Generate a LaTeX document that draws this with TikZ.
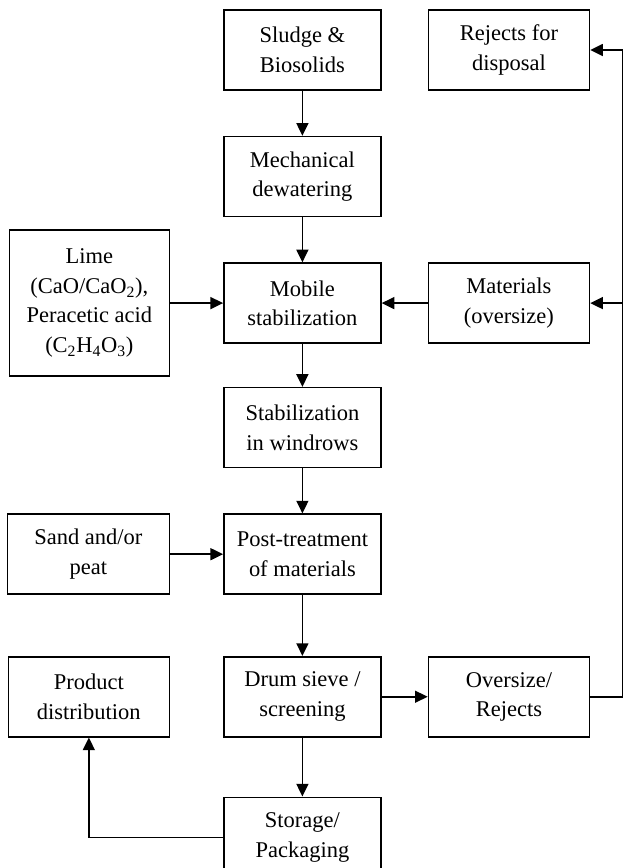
\documentclass[tikz,border=0pt]{standalone}
\usepackage{fontspec}
\setmainfont{Liberation Serif}
\usetikzlibrary{arrows.meta, positioning}

\begin{document}
\begin{tikzpicture}[
    % khoang cach giua cac khoi
    node distance=1.125cm and 1.15cm,
    every node/.style={font=\fontsize{16}{21}\selectfont},
    box/.style={rectangle, draw=black, line width=1.1pt, minimum width=3.925cm, minimum height=2cm, align=center, inner sep=2pt},
    wide/.style={box, minimum width=4.025cm},
    arrow/.style={line width=1.1pt, -{Triangle[length=9pt, width=8.5pt]}}
]
    \useasboundingbox (0,0) rectangle (15.55,-21.7);

    % --- Main column ---
    \node[box] (sludge) at (7.56,-1.25) {Sludge \&\\Biosolids};
    \node[box, below=of sludge] (mech) {Mechanical\\dewatering};
    \node[box, below=of mech] (mobile) {Mobile\\stabilization};
    \node[box, below=1.075cm of mobile] (windrows) {Stabilization\\in windrows};
    \node[box, below=of windrows] (post) {Post-treatment\\of materials};
    \node[box, below=1.525cm of post] (drum) {Drum sieve /\\screening};
    \node[box, below=1.475cm of drum] (storage) {Storage/\\Packaging};

    % --- Right column ---
    \node[wide, right=of sludge] (rejects) {Rejects for\\disposal};
    \node[wide, right=of mobile] (materials) {Materials\\(oversize)};
    \node[wide, right=of drum] (oversize) {Oversize/\\Rejects};

    % --- Left column ---
    \node[box, minimum width=4cm, minimum height=3.65cm, left=1.325cm of mobile] (lime)
        {Lime\\(CaO/CaO\textsubscript{2}),\\Peracetic acid\\(C\textsubscript{2}H\textsubscript{4}O\textsubscript{3})};
    \node[box, minimum width=4.05cm, left=1.325cm of post] (sand) {Sand and/or\\peat};
    \node[wide, left=1.325cm of drum] (product) {Product\\distribution};

    % --- Arrows ---
    \draw[arrow] (sludge) -- (mech);
    \draw[arrow] (mech) -- (mobile);
    \draw[arrow] (mobile) -- (windrows);
    \draw[arrow] (windrows) -- (post);
    \draw[arrow] (post) -- (drum);
    \draw[arrow] (drum) -- (storage);
    \draw[arrow] (lime) -- (mobile);
    \draw[arrow] (materials) -- (mobile);
    \draw[arrow] (sand) -- (post);
    \draw[arrow] (drum) -- (oversize);
    \draw[arrow] (storage) -| (product);

    % return loop on the right edge
    \coordinate[right=0.825cm of oversize.east] (turn);
    \draw[arrow] (oversize.east) -- (turn) |- (rejects.east);
    \draw[arrow] (turn |- materials.east) -- (materials.east);
\end{tikzpicture}
\end{document}
